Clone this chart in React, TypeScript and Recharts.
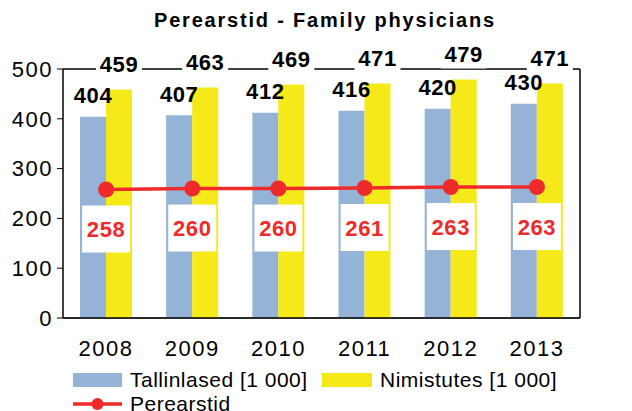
import React from "react";
import { Bar, CartesianGrid, ComposedChart, LabelList, Line, XAxis, YAxis } from "recharts";

const years = ["2008", "2009", "2010", "2011", "2012", "2013"];
const tallinlased = [404, 407, 412, 416, 420, 430];
const nimistutes = [459, 463, 469, 471, 479, 471];
const perearstid = [258, 260, 260, 261, 263, 263];
const yTicks = [0, 100, 200, 300, 400, 500];
const edgeTicks = [0, 1, 2, 3, 4, 5, 6];

const BLUE = "#95B3D7";
const YELLOW = "#F5E919";
const RED = "#EE2A2A";
const FONT = "'Liberation Sans', Arial, sans-serif";

const data = years.map((year, i) => ({
  year,
  edge: i + 0.5,
  tallinlased: tallinlased[i],
  nimistutes: nimistutes[i],
  perearstid: perearstid[i],
}));

const BlueLabel = (p: any) => (
  <text x={p.x + p.width / 2} y={p.y - 21} textAnchor="middle" dominantBaseline="central"
    fontFamily={FONT} fontSize={22} fontWeight="bold" letterSpacing={0.6} fill="#000">{p.value}</text>
);

const YellowLabel = (p: any) => {
  const cx = p.x + p.width / 2;
  const cy = p.y - 25;
  return (
    <g>
      <rect x={cx - 23} y={cy - 14} width={46} height={28} fill="#fff" />
      <text x={cx} y={cy} textAnchor="middle" dominantBaseline="central"
        fontFamily={FONT} fontSize={22} fontWeight="bold" letterSpacing={0.6} fill="#000">{p.value}</text>
    </g>
  );
};

const LineLabel = (p: any) => (
  <g>
    <rect x={p.x - 24} y={p.y + 16} width={48} height={47} fill="#fff" />
    <text x={p.x} y={p.y + 40} textAnchor="middle" dominantBaseline="central"
      fontFamily={FONT} fontSize={22} fontWeight="bold" letterSpacing={0.6} fill={RED}>{p.value}</text>
  </g>
);

const GridLine = (p: any) => (
  <line x1={p.x1} y1={p.y1} x2={p.x2} y2={p.y2}
    stroke={Math.abs(p.y1 - p.y) < 1 ? "#000" : "#808080"} strokeWidth={1.5} />
);

const tickStyle = { fontFamily: FONT, fontSize: 22, fill: "#000", letterSpacing: 1.5 };

export default function App() {
  return (
    <div style={{ position: "absolute", left: 0, top: 0, width: 632, height: 411, background: "#fff", overflow: "hidden" }}>
      <div style={{ position: "absolute", left: 0, top: 9, width: 650, textAlign: "center",
        fontFamily: FONT, fontSize: 20, fontWeight: "bold", letterSpacing: 1.8 }}>
        Perearstid - Family physicians
      </div>
      <ComposedChart width={632} height={411} data={data} barGap={0}
        margin={{ top: 69, right: 0, left: 0, bottom: 53 }}>
        <CartesianGrid vertical={false} horizontal={GridLine as any} />
        <XAxis xAxisId="edge" type="number" dataKey="edge" domain={[0, 6]} ticks={edgeTicks}
          tick={false} axisLine={false} tickSize={6} stroke="#000" height={0} />
        <XAxis dataKey="year" tickLine={false} axisLine={{ stroke: "#000", strokeWidth: 1.5 }}
          tick={tickStyle} tickMargin={16} height={40} />
        <YAxis yAxisId="left" domain={[0, 500]} ticks={yTicks} width={63} tick={tickStyle}
          stroke="#000" tickSize={6} tickMargin={4} axisLine={{ strokeWidth: 1.5 }} />
        <YAxis yAxisId="right" orientation="right" domain={[0, 500]} ticks={yTicks} width={52}
          tick={tickStyle} stroke="#000" tickSize={6} tickMargin={4} axisLine={{ strokeWidth: 1.5 }} />
        <Bar yAxisId="left" dataKey="tallinlased" fill={BLUE} barSize={26} isAnimationActive={false}>
          <LabelList dataKey="tallinlased" content={BlueLabel} />
        </Bar>
        <Bar yAxisId="left" dataKey="nimistutes" fill={YELLOW} barSize={26} isAnimationActive={false}>
          <LabelList dataKey="nimistutes" content={YellowLabel} />
        </Bar>
        <Line yAxisId="left" dataKey="perearstid" stroke={RED} strokeWidth={3.5}
          dot={{ r: 8, fill: RED, stroke: RED, strokeWidth: 0 }} isAnimationActive={false}>
          <LabelList dataKey="perearstid" content={LineLabel} />
        </Line>
      </ComposedChart>
      <div style={{ position: "absolute", left: 73, top: 368, fontFamily: FONT, fontSize: 21,
        letterSpacing: 0.5, color: "#000" }}>
        <div style={{ display: "flex", alignItems: "center", height: 24 }}>
          <span style={{ width: 49, height: 14, background: BLUE, marginRight: 8 }} />
          <span style={{ width: 192 }}>Tallinlased [1 000]</span>
          <span style={{ width: 50, height: 14, background: YELLOW, marginRight: 8 }} />
          <span>Nimistutes [1 000]</span>
        </div>
        <div style={{ display: "flex", alignItems: "center", height: 24 }}>
          <svg width={49} height={16} style={{ marginRight: 8 }}>
            <line x1={0} y1={8} x2={49} y2={8} stroke={RED} strokeWidth={3.5} />
            <circle cx={24.5} cy={8} r={6} fill={RED} />
          </svg>
          <span>Perearstid</span>
        </div>
      </div>
    </div>
  );
}
